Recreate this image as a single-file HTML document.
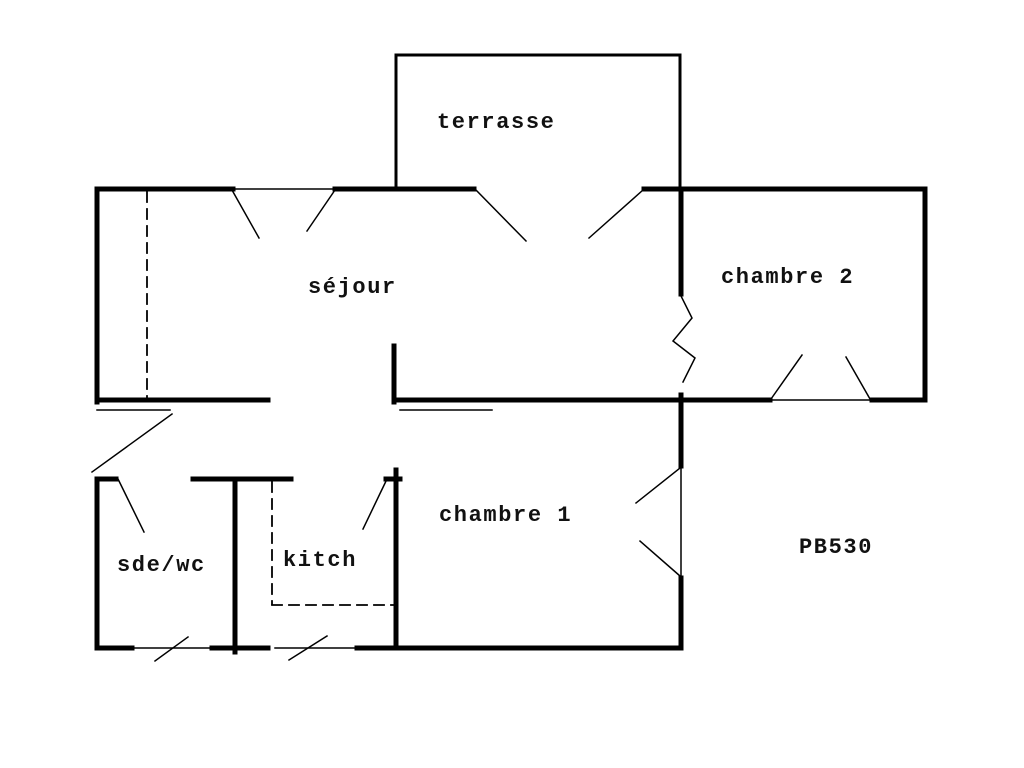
<!DOCTYPE html>
<html><head><style>
html,body{margin:0;padding:0;background:#fff;}
svg{display:block;}
text{font-family:"Liberation Mono",monospace;font-weight:bold;font-size:22px;letter-spacing:1.6px;fill:#111;}
</style></head><body>
<svg width="1024" height="768" viewBox="0 0 1024 768" xmlns="http://www.w3.org/2000/svg">
<g stroke="#000" stroke-linecap="square" fill="none">
<g stroke-width="5">
<line x1="97" y1="189" x2="233" y2="189"/>
<line x1="335" y1="189" x2="474" y2="189"/>
<line x1="644" y1="189" x2="925" y2="189"/>
<line x1="97" y1="189" x2="97" y2="402"/>
<line x1="925" y1="189" x2="925" y2="400"/>
<line x1="97" y1="400" x2="268" y2="400"/>
<line x1="394" y1="346" x2="394" y2="402"/>
<line x1="394" y1="400" x2="770" y2="400"/>
<line x1="872" y1="400" x2="925" y2="400"/>
<line x1="681" y1="189" x2="681" y2="294"/>
<line x1="681" y1="395" x2="681" y2="466"/>
<line x1="681" y1="578" x2="681" y2="648"/>
<line x1="97" y1="479" x2="97" y2="648"/>
<line x1="97" y1="479" x2="116" y2="479"/>
<line x1="193" y1="479" x2="291" y2="479"/>
<line x1="235" y1="479" x2="235" y2="652"/>
<line x1="396" y1="470" x2="396" y2="648"/>
<line x1="386" y1="479" x2="400" y2="479"/>
<line x1="97" y1="648" x2="132" y2="648"/>
<line x1="212" y1="648" x2="268" y2="648"/>
<line x1="357" y1="648" x2="681" y2="648"/>
</g>
<g stroke-width="3">
<line x1="396" y1="55" x2="396" y2="189"/>
<line x1="396" y1="55" x2="680" y2="55"/>
<line x1="680" y1="55" x2="680" y2="189"/>
</g>
<g stroke-width="1.5">
<line x1="233" y1="189" x2="335" y2="189"/>
<line x1="770" y1="400" x2="872" y2="400"/>
<line x1="681" y1="466" x2="681" y2="578"/>
<line x1="97" y1="410" x2="170" y2="410"/>
<line x1="400" y1="410" x2="492" y2="410"/>
<line x1="132" y1="648" x2="212" y2="648"/>
<line x1="275" y1="648" x2="357" y2="648"/>
<line x1="232" y1="190" x2="259" y2="238"/>
<line x1="335" y1="190" x2="307" y2="231"/>
<line x1="476" y1="190" x2="526" y2="241"/>
<line x1="643" y1="190" x2="589" y2="238"/>
<line x1="771" y1="399" x2="802" y2="355"/>
<line x1="870" y1="399" x2="846" y2="357"/>
<line x1="680" y1="468" x2="636" y2="503"/>
<line x1="680" y1="576" x2="640" y2="541"/>
<line x1="172" y1="414" x2="92" y2="472"/>
<line x1="118" y1="479" x2="144" y2="532"/>
<line x1="387" y1="479" x2="363" y2="529"/>
<line x1="155" y1="661" x2="188" y2="637"/>
<line x1="289" y1="660" x2="327" y2="636"/>
<polyline points="681,296 692,318 673,341 695,358 683,382"/>
</g>
<g stroke-width="1.8" stroke-dasharray="10,7">
<line x1="147" y1="192" x2="147" y2="398"/>
<line x1="272" y1="482" x2="272" y2="604"/>
<line x1="272" y1="605" x2="394" y2="605"/>
</g>
</g>
<text x="437" y="128">terrasse</text>
<text x="308" y="293">séjour</text>
<text x="721" y="283">chambre 2</text>
<text x="439" y="521">chambre 1</text>
<text x="117" y="571">sde/wc</text>
<text x="283" y="566">kitch</text>
<text x="799" y="553">PB530</text>
</svg>
</body></html>
